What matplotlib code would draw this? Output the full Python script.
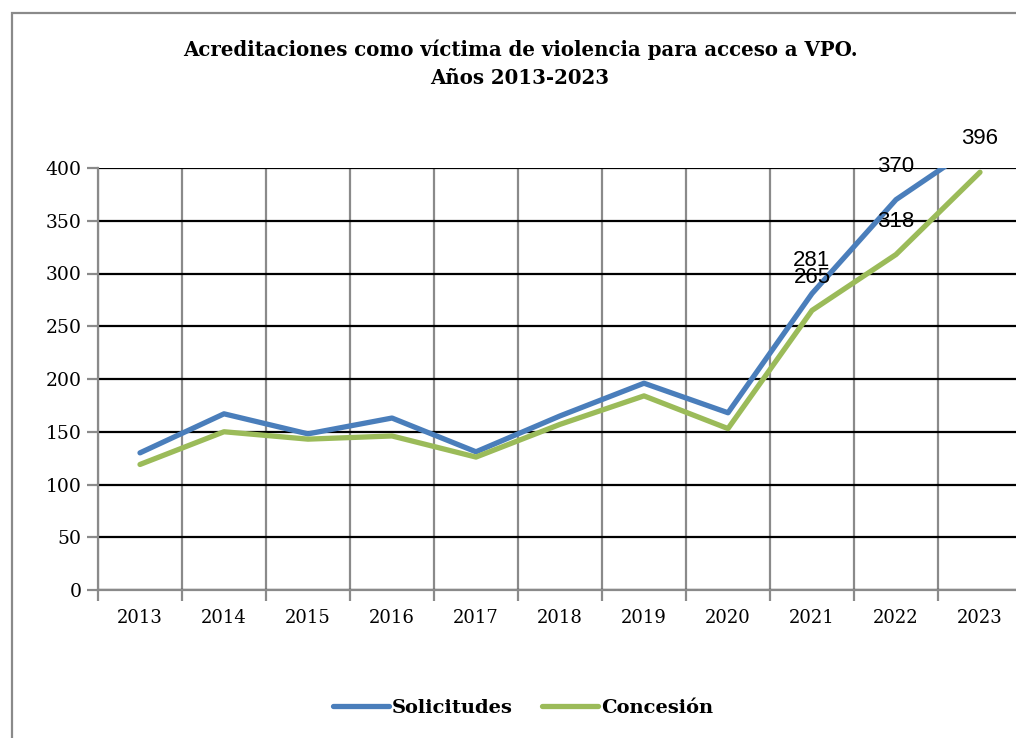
import matplotlib
matplotlib.use("Agg")
import matplotlib.pyplot as plt
from matplotlib.patches import Rectangle
from matplotlib.ticker import FixedLocator, NullFormatter

years = ["2013", "2014", "2015", "2016", "2017", "2018", "2019", "2020", "2021", "2022", "2023"]
solicitudes = [130, 167, 148, 163, 131, 165, 196, 168, 281, 370, 424]
concesion = [119, 150, 143, 146, 126, 157, 184, 153, 265, 318, 396]
label_sol = {8: "281", 9: "370"}
label_con = {8: "265", 9: "318", 10: "396"}
yticks = [0, 50, 100, 150, 200, 250, 300, 350, 400]

W, H = 1016, 738
fig = plt.figure(figsize=(W / 100, H / 100), dpi=100)
fig.patch.set_facecolor("white")

# outer frame
fig.add_artist(Rectangle((12 / W, -0.1), 1.2, 1 - 13 / H + 0.1, transform=fig.transFigure,
                         fill=False, edgecolor="#8a8a8a", lw=1.6))

ax = fig.add_axes([98 / W, (H - 590) / H, (1022 - 98) / W, (590 - 168) / H])
x = list(range(len(years)))
blue = "#4A7EBB"
green = "#9BBB59"
ax.plot(x, solicitudes, color=blue, lw=3.8, solid_capstyle="round", solid_joinstyle="round", zorder=3, label="Solicitudes")
ax.plot(x, concesion, color=green, lw=3.8, solid_capstyle="round", solid_joinstyle="round", zorder=3, label="Concesión")

ax.set_xlim(-0.5, len(years) - 0.5)
ax.set_ylim(0, 400)

# x ticks at boundaries, labels at centers
ax.xaxis.set_major_locator(FixedLocator([i - 0.5 for i in range(len(years) + 1)]))
ax.xaxis.set_major_formatter(NullFormatter())
ax.xaxis.set_minor_locator(FixedLocator(x))
ax.set_xticklabels(years, minor=True)
ax.tick_params(axis="x", which="minor", length=0, pad=14, labelsize=13)
ax.tick_params(axis="x", which="major", length=8, width=1.6, color="#8a8a8a")
ax.set_yticks(yticks)
ax.tick_params(axis="y", length=8, width=1.6, color="#8a8a8a", labelsize=13.5, pad=4)
for lab in ax.get_xticklabels(minor=True) + ax.get_yticklabels():
    lab.set_fontfamily("DejaVu Serif")

ax.grid(axis="y", color="black", lw=1.6, zorder=1)
ax.grid(axis="x", which="major", color="#8a8a8a", lw=1.6, zorder=1)
for s in ["top", "right"]:
    ax.spines[s].set_visible(False)
for s in ["left", "bottom"]:
    ax.spines[s].set_color("#8a8a8a")
    ax.spines[s].set_linewidth(1.6)

for i, t in label_sol.items():
    ax.annotate(t, (i, solicitudes[i]), xytext=(0, 24), textcoords="offset points",
                ha="center", va="center", fontsize=16, family="Liberation Sans", annotation_clip=False)
for i, t in label_con.items():
    ax.annotate(t, (i, concesion[i]), xytext=(0, 24), textcoords="offset points",
                ha="center", va="center", fontsize=16, family="Liberation Sans", annotation_clip=False)

fig.text(520 / W, 1 - 50 / H, "Acreditaciones como víctima de violencia para acceso a VPO.",
         ha="center", va="center", fontsize=14.2, fontweight="bold", family="DejaVu Serif")
fig.text(520 / W, 1 - 78 / H, "Años 2013-2023",
         ha="center", va="center", fontsize=14.2, fontweight="bold", family="DejaVu Serif")

leg = fig.legend(loc="center", bbox_to_anchor=(523 / W, 1 - 708 / H), ncol=2, frameon=False,
                 prop={"family": "DejaVu Serif", "weight": "bold", "size": 14},
                 handlelength=2.9, handletextpad=0.15, columnspacing=1.5)

fig.savefig("out.png", dpi=100, facecolor="white")
